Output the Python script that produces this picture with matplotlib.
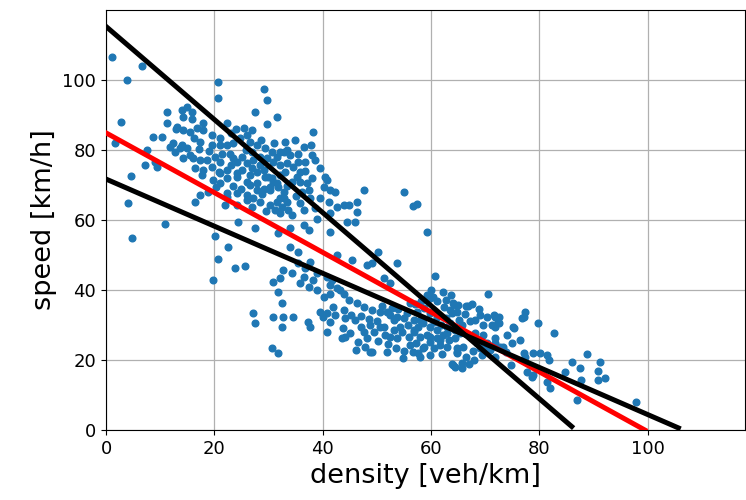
import matplotlib
matplotlib.use("Agg")
import matplotlib.pyplot as plt

density = [
    1.1, 3.9, 6.6, 2.7, 1.7, 7.2, 7.5, 8.7, 10.3, 4.6, 4.1, 4.8, 10.9,
    11.2, 11.2, 13.0, 14.0, 15.0, 20.7, 20.7, 27.5, 29.7, 29.2,
    15.8, 14.3, 15.8, 22.3, 31.5, 29.7, 25.4, 26.9, 13.1, 14.3, 15.5, 16.8, 18.0, 18.0,
    12.4, 14.0, 14.9, 17.4, 19.5, 19.5, 21.1, 22.3, 23.5, 11.8, 13.7,
    24.8, 26.0, 26.6, 27.9, 29.4, 30.6, 32.2, 33.4, 9.1, 9.4,
    12.8, 15.5, 14.3, 16.1, 17.4, 18.6, 20.1, 21.4, 22.9, 23.5,
    25.1, 24.2, 26.0, 27.2, 28.5, 29.7, 30.9, 32.2, 33.4,
    16.5, 18.0, 19.5, 20.8, 22.3, 24.2, 25.1, 26.6, 27.9, 29.4, 30.6, 32.2,
    17.7, 19.8, 21.1, 22.3, 26.0, 26.6, 27.9, 29.1, 30.3, 31.5, 32.8,
    16.5, 17.4, 18.9, 22.3, 22.0, 24.2, 26.0, 27.2, 28.5, 30.3, 31.5, 32.8,
    38.2, 34.9, 37.8, 31.5, 32.8, 38.0, 38.6, 36.8, 35.5,
    39.6, 40.5, 40.8, 40.2, 41.4, 42.3, 47.6, 34.6, 35.9, 35.2, 34.3, 35.9,
    29.1, 30.0, 30.9, 30.3, 31.8, 37.4, 37.7, 35.9, 39.6, 41.1,
    42.6, 43.9, 44.8, 46.3, 46.3, 44.5, 46.0, 41.4,
    32.2, 32.5, 31.2, 32.2, 33.7, 34.3, 36.5, 34.0, 36.5, 37.4, 41.4,
    20.1, 22.6, 20.7, 23.8, 19.8, 24.4, 21.1, 24.2, 27.9, 24.2, 26.0, 22.3,
    50.3, 53.8, 42.7, 45.5, 48.2, 25.7, 27.5, 31.8, 34.0, 35.5, 37.7,
    32.7, 34.4, 32.2, 30.9, 36.5, 31.8, 32.5, 27.2, 27.5, 30.9, 32.7, 34.6,
    32.5, 37.3, 37.7, 30.7, 31.8, 39.6, 40.1, 40.8, 40.8, 43.8, 44.2, 47.9, 48.8, 51.9,
    35.5, 36.8, 38.9, 40.8, 41.7, 38.3, 35.9, 37.4, 38.9, 40.2, 41.4, 43.3,
    49.1, 60.8, 52.5, 51.3, 62.3, 62.7, 63.6, 59.3, 59.9,
    41.4, 42.6, 43.9, 44.8, 46.3, 47.6, 49.1, 50.6, 52.5, 53.7, 55.0, 56.8, 58.6, 59.9,
    42.0, 42.3, 41.4, 43.9, 44.2, 43.6,
    46.0, 47.0, 47.6, 48.8, 49.4, 50.6, 51.6, 53.1, 53.7, 54.6,
    55.9, 56.8, 58.0, 59.3, 59.9, 61.1, 62.3, 63.3, 64.5, 64.8,
    46.6, 49.1, 56.2, 57.7, 58.6, 59.9, 63.9,
    55.1, 56.6, 57.5, 59.3, 70.6, 60.4, 64.0, 65.0, 66.4, 66.9,
    77.4, 77.1, 79.7, 69.1, 70.4, 71.9, 72.3, 75.2, 74.1, 76.5, 77.1,
    56.7, 58.0, 64.1, 65.8, 64.9, 69.1, 71.0, 71.9, 73.4, 78.9, 78.9,
    56.2, 57.4, 58.7, 59.9, 61.1, 58.0, 56.8, 54.3, 53.1, 51.9, 51.3, 52.5,
    59.9, 61.7, 58.7, 60.5, 63.0, 61.1, 63.0,
    64.2, 64.8, 63.9, 62.7, 63.6, 65.1, 65.7, 64.5, 63.0, 65.4,
    68.2, 71.6, 72.5, 69.7, 71.3, 71.9, 72.5, 76.8, 75.3, 75.0,
    68.2, 69.7, 71.9, 70.4, 72.8, 73.8, 71.9, 69.4, 70.1,
    82.7, 80.2, 81.5, 81.8, 64.8, 64.5, 65.7, 67.0, 67.9, 74.7, 77.8, 78.7, 61.7,
    77.4, 88.9, 86.1, 91.3, 87.6, 84.8, 90.9, 90.8, 92.2, 87.8, 81.5, 82.0, 87.0, 97.8,
    # dense low band
    45.2, 47.0, 48.5, 50.0, 51.0, 52.8, 54.0, 55.5, 57.0, 58.2, 55.8, 57.6,
    60.5, 61.8, 52.0, 53.5, 55.0, 50.3, 48.2, 45.0, 46.2, 54.8, 57.2, 62.0,
    66.0, 66.5, 67.8, 68.6, 66.3, 67.2, 68.9, 67.6, 62.5, 61.2, 60.0, 63.8,
    # dense upper cluster
    23.0, 24.0, 21.0, 25.8, 27.0, 28.6, 31.0, 33.0, 35.5, 36.5, 34.0, 36.8,
    38.0, 37.2, 33.0, 28.4, 27.0, 23.0, 21.0, 19.0, 17.2, 16.3, 20.3, 23.5,
    25.0, 28.8, 27.0, 29.5, 33.5, 35.0, 38.6, 39.0, 36.2, 33.5,
]
speed = [
    106.6, 100.0, 104.0, 88.0, 82.0, 75.7, 80.0, 83.7, 83.7, 72.6, 65.0, 55.0, 58.9,
    91.0, 87.6, 86.0, 91.4, 92.3, 99.4, 94.8, 91.0, 94.3, 97.4,
    90.9, 89.5, 89.0, 87.6, 89.5, 87.3, 86.2, 85.7, 86.7, 85.7, 85.2, 86.2, 87.6, 85.7,
    81.9, 81.4, 80.5, 82.4, 84.3, 81.4, 81.4, 81.4, 81.9, 81.0, 80.5,
    83.3, 84.3, 82.4, 81.4, 80.5, 79.5, 79.5, 80.0, 76.7, 75.2,
    79.5, 78.6, 77.6, 77.6, 77.1, 77.1, 78.1, 79.0, 79.0, 77.6,
    78.1, 76.7, 76.2, 77.1, 78.1, 77.6, 76.7, 75.7, 76.2,
    74.8, 74.3, 75.2, 73.8, 74.3, 73.3, 74.3, 72.9, 73.8, 72.4, 71.9, 72.9,
    72.9, 71.4, 70.5, 71.9, 70.9, 70.0, 70.5, 69.0, 69.5, 70.5, 68.1,
    65.2, 67.1, 68.1, 67.6, 64.3, 64.3, 67.1, 66.2, 65.2, 64.3, 65.2, 66.2,
    85.2, 82.9, 81.4, 78.1, 79.5, 78.6, 77.1, 76.7, 76.7,
    74.8, 72.4, 71.4, 69.5, 68.6, 68.1, 68.6, 75.2, 73.8, 72.4, 70.9, 70.9,
    74.3, 72.4, 70.9, 68.6, 69.5, 68.6, 66.2, 64.8, 66.2, 65.2,
    63.8, 64.3, 64.3, 65.2, 62.4, 59.5, 59.5, 61.9,
    66.2, 63.8, 62.9, 61.9, 62.9, 61.4, 62.9, 57.6, 58.6, 57.1, 56.7,
    55.4, 52.3, 49.0, 46.3, 42.9, 59.4, 73.3, 72.4, 68.6, 67.6, 65.7, 66.7,
    50.9, 47.7, 50.0, 48.6, 47.1, 46.9, 57.7, 56.3, 52.3, 50.9, 48.0,
    45.7, 44.9, 43.4, 42.3, 43.7, 39.4, 36.3, 33.4, 30.6, 32.3, 32.3, 32.3,
    29.4, 30.9, 29.4, 23.4, 22.0, 33.7, 32.3, 33.4, 28.0, 29.1, 26.6, 23.7, 22.3, 22.3,
    47.6, 46.2, 44.8, 43.8, 42.9, 42.9, 41.9, 40.9, 40.0, 38.1, 39.0, 40.0,
    47.6, 44.0, 41.9, 43.3, 39.5, 37.1, 34.3, 38.6, 37.6,
    41.4, 40.5, 39.0, 37.1, 36.2, 35.2, 34.3, 33.8, 32.9, 32.4, 31.9, 31.4, 30.5, 29.5,
    35.2, 32.9, 30.9, 34.3, 31.9, 26.2,
    31.4, 29.5, 28.1, 30.0, 28.1, 29.5, 27.1, 28.6, 26.2, 28.1,
    26.7, 28.1, 26.7, 27.1, 25.2, 26.2, 27.1, 25.7, 26.2, 23.3,
    25.2, 22.4, 24.3, 21.9, 23.3, 21.4, 19.0,
    68.0, 64.0, 64.6, 56.6, 38.9, 38.0, 36.3, 35.7, 35.4, 35.4,
    33.7, 32.3, 30.6, 32.9, 32.3, 32.3, 30.9, 29.4, 27.1, 25.7, 22.0,
    22.3, 20.9, 18.6, 19.1, 22.0, 23.4, 22.9, 24.9, 23.7, 15.7, 22.0,
    36.2, 33.8, 34.8, 33.3, 32.4, 31.4, 28.6, 29.5, 31.4, 33.8, 29.5, 26.7,
    26.7, 25.7, 23.8, 23.3, 23.8, 28.6, 29.5,
    35.7, 33.8, 33.3, 31.9, 30.5, 31.4, 30.0, 28.6, 27.6, 27.6,
    31.4, 32.9, 32.4, 30.0, 30.0, 29.5, 30.5, 31.9, 29.1, 24.8,
    27.6, 27.1, 26.2, 24.8, 23.8, 22.4, 20.9, 21.4, 23.3,
    27.6, 21.9, 21.4, 20.0, 22.4, 18.1, 17.6, 19.0, 20.0, 18.6, 16.7, 15.2, 24.3,
    20.9, 21.7, 19.4, 19.4, 17.7, 16.6, 16.9, 14.3, 14.9, 14.3, 13.7, 12.0, 8.6, 8.0,
    # dense low band
    33.0, 32.6, 31.8, 31.2, 35.5, 35.0, 34.6, 33.5, 35.9, 37.0, 30.0, 29.3,
    30.8, 30.1, 24.6, 23.5, 22.6, 25.4, 26.4, 27.8, 22.8, 20.5, 24.8, 21.8,
    23.7, 20.8, 22.6, 25.0, 33.2, 31.2, 34.7, 36.0, 35.2, 36.8, 40.0, 38.5,
    # dense upper cluster
    84.8, 85.9, 83.5, 80.1, 79.3, 83.0, 82.0, 82.2, 79.0, 80.8, 78.5, 74.0,
    72.0, 70.5, 73.6, 75.8, 75.0, 75.8, 76.5, 79.8, 80.2, 83.5, 69.5, 69.8,
    69.0, 67.4, 63.8, 62.5, 65.2, 66.8, 63.4, 60.2, 68.0, 69.8,
]

# fitted lines (end points)
red_x = [0, 99.5]
red_y = [84.9, 0.0]
steep_x = [0, 86.0]
steep_y = [115.3, 1.0]
flat_x = [0, 105.7]
flat_y = [71.7, 0.6]

xticks = [0, 20, 40, 60, 80, 100]
yticks = [0, 20, 40, 60, 80, 100]

fig = plt.figure(figsize=(7.46, 5.0), dpi=100)
ax = fig.add_axes([106 / 746, 70 / 500, 639 / 746, 420 / 500])

ax.scatter(density, speed, s=23, color="#1f77b4", zorder=2)
ax.plot(red_x, red_y, color="red", lw=3.6, zorder=3)
ax.plot(steep_x, steep_y, color="black", lw=3.6, zorder=4)
ax.plot(flat_x, flat_y, color="black", lw=3.6, zorder=4)

ax.set_xlim(0, 118)
ax.set_ylim(0, 120)
ax.set_xticks(xticks)
ax.set_yticks(yticks)
ax.tick_params(labelsize=13)
ax.grid(True, color="#b0b0b0", lw=0.9)
ax.set_axisbelow(True)

ax.set_xlabel("density [veh/km]", fontsize=19.5)
ax.set_ylabel("speed [km/h]", fontsize=19.5)

fig.savefig("out.png", dpi=100)
